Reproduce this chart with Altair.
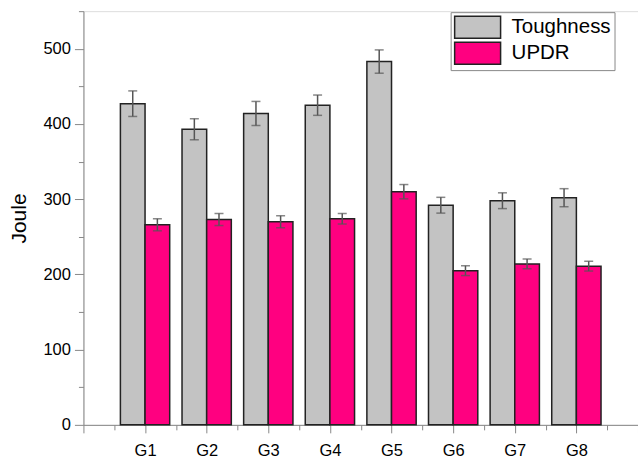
import altair as alt
import pandas as pd

groups = ["G1", "G2", "G3", "G4", "G5", "G6", "G7", "G8"]
series = ["Toughness", "UPDR"]
toughness = [427, 393, 414, 425, 483, 292, 298, 302]
toughness_err = [17, 14, 16, 13.5, 15.5, 10.5, 10.5, 12]
updr = [266, 273, 270, 274, 310, 205, 214, 211]
updr_err = [8, 8, 8, 7, 9.5, 6.5, 6.5, 6.5]
colors = ["#C3C3C3", "#FF0080"]

rows = []
for i, g in enumerate(groups):
    rows.append(dict(group=g, idx=i + 1, series=series[0], value=toughness[i], err=toughness_err[i], side=0))
    rows.append(dict(group=g, idx=i + 1, series=series[1], value=updr[i], err=updr_err[i], side=1))
df = pd.DataFrame(rows)

FONT = "Liberation Sans"

x_scale = alt.Scale(domain=[0, 9], nice=False, zero=False)
x_axis = alt.Axis(
    values=[v / 2 for v in range(0, 19)],
    labelExpr="(datum.value >= 1 && datum.value <= 8 && datum.value % 1 === 0) ? 'G' + datum.value : ''",
    tickSize={"condition": {"test": "datum.value % 1 === 0", "value": 8}, "value": 5},
    title=None,
    grid=False,
    labelFontSize=16.5,
    labelPadding=10,
    labelFlush=False,
    labelOverlap=False,
)
y_scale = alt.Scale(domain=[0, 550], nice=False, zero=True)
y_axis = alt.Axis(
    values=list(range(0, 551, 50)),
    labelExpr="datum.value % 100 === 0 ? datum.label : ''",
    tickSize={"condition": {"test": "datum.value % 100 === 0", "value": 9}, "value": 5},
    title="Joule",
    titleFontSize=21,
    titleFontWeight="normal",
    titlePadding=13,
    grid=False,
    labelFontSize=16.5,
    labelPadding=4,
    labelOverlap=False,
    labelFlush=False,
)

base = alt.Chart(df).transform_calculate(
    x0="datum.idx - 0.4 + 0.4 * datum.side",
    x1="datum.idx + 0.4 * datum.side",
    xc="datum.idx - 0.2 + 0.4 * datum.side",
    lo="datum.value - datum.err",
    hi="datum.value + datum.err",
)

bars = base.mark_bar(stroke="#222222", strokeWidth=1.5).encode(
    x=alt.X("x0:Q", scale=x_scale, axis=x_axis),
    x2="x1:Q",
    y=alt.Y("value:Q", scale=y_scale, axis=y_axis),
    y2=alt.datum(0),
    color=alt.Color(
        "series:N",
        scale=alt.Scale(domain=series, range=colors),
        legend=alt.Legend(
            orient="none",
            legendX=367.5,
            legendY=1,
            title=None,
            symbolType="M-1,-1H3.18V1H-1Z",
            symbolSize=484,
            symbolStrokeColor="#222222",
            symbolStrokeWidth=1.5,
            symbolOpacity=1,
            labelFontSize=20.5,
            labelFont=FONT,
            labelOffset=34,
            labelExpr="datum.label + '    '",
            rowPadding=-3,
            padding=3,
            strokeColor="#888888",
            fillColor="white",
        ),
    ),
)

rules = base.mark_rule(color="#555555", strokeWidth=1.5).encode(
    x=alt.X("xc:Q", scale=x_scale, axis=x_axis),
    y=alt.Y("lo:Q", scale=y_scale, axis=y_axis),
    y2="hi:Q",
)
caps_lo = base.mark_tick(color="#555555", thickness=1.5, size=9, orient="horizontal").encode(
    x=alt.X("xc:Q", scale=x_scale, axis=x_axis),
    y=alt.Y("lo:Q", scale=y_scale, axis=y_axis),
)
caps_hi = base.mark_tick(color="#555555", thickness=1.5, size=9, orient="horizontal").encode(
    x=alt.X("xc:Q", scale=x_scale, axis=x_axis),
    y=alt.Y("hi:Q", scale=y_scale, axis=y_axis),
)

chart = alt.layer(bars, rules, caps_lo, caps_hi).properties(
    width=555,
    height=414,
    autosize=alt.AutoSizeParams(type="none"),
    padding={"left": 83.5, "top": 11, "right": 0, "bottom": 33},
).configure_view(stroke=None).configure_axis(
    domainColor="black",
    domainWidth=1.5,
    tickColor="black",
    tickWidth=1.5,
    labelFont=FONT,
    titleFont=FONT,
    labelColor="black",
    titleColor="black",
).configure(background="white")

chart.save("out.html", embed_options={"renderer": "svg", "actions": False})
